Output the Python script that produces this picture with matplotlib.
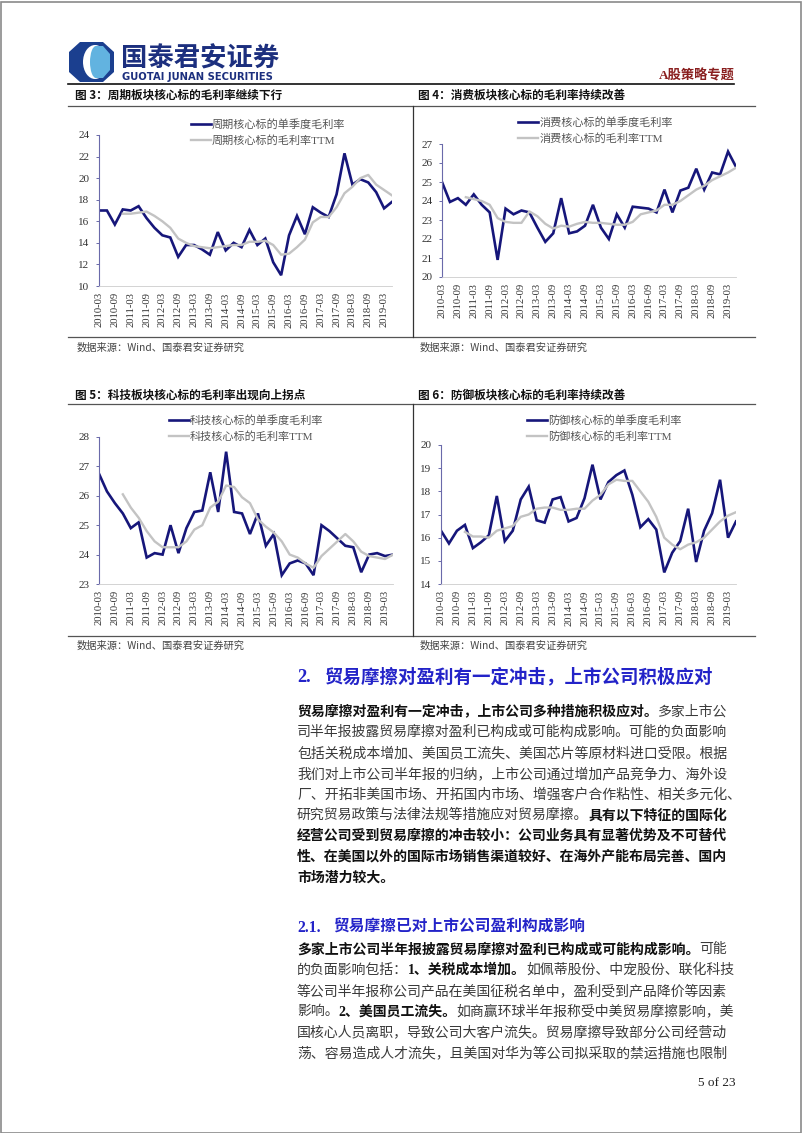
import matplotlib
matplotlib.use("Agg")
import matplotlib.pyplot as plt
from matplotlib.lines import Line2D
from matplotlib.patches import Polygon, Ellipse, Rectangle

W, H = 802, 1133
CJK = ['Liberation Serif', 'Noto Sans CJK SC']
SANS = ['Noto Sans CJK SC', 'DejaVu Sans']
NAVY = '#16167a'
GREY = '#c3c3c3'

# quarters 2010-03 .. 2019-06
years = list(range(2010, 2020))
months = ['03', '06', '09', '12']
quarters = [f'{y}-{m}' for y in years for m in months][:38]

# 周期
cyc_q = [17.0, 17.0, 15.7, 17.1, 17.0, 17.4, 16.3, 15.4, 14.7, 14.5,
         12.7, 13.8, 13.8, 13.4, 12.9, 15.0, 13.3, 14.0, 13.6, 15.2,
         13.8, 14.4, 12.2, 11.0, 14.7, 16.5, 14.8, 17.3, 16.8, 16.4,
         18.5, 22.3, 19.4, 19.9, 19.6, 18.7, 17.2, 17.8]
cyc_ttm = [16.7, 16.7, 16.8, 16.9, 16.5, 16.0, 15.4, 14.4, 14.0, 13.7,
           13.6, 13.5, 13.6, 13.7, 13.8, 13.8, 14.1, 14.1, 14.2, 13.8,
           12.9, 13.0, 13.6, 14.3, 15.9, 16.4, 16.4, 17.3, 18.6, 19.2,
           20.0, 20.3, 19.4, 18.9, 18.4]
# 消费
con_q = [25.0, 23.95, 24.15, 23.8, 24.35, 23.8, 23.4, 20.9, 23.6, 23.3,
         23.5, 23.4, 22.6, 21.85, 22.3, 24.15, 22.3, 22.4, 22.7, 23.8,
         22.6, 22.0, 23.3, 22.6, 23.7, 23.65, 23.6, 23.4, 24.6, 23.4,
         24.55, 24.7, 25.7, 24.6, 25.5, 25.4, 26.6, 25.8]
con_ttm = [24.2, 24.1, 24.0, 23.8, 23.1, 22.9, 22.85, 22.85, 23.45, 23.2,
           22.8, 22.55, 22.7, 22.65, 22.8, 22.9, 22.85, 22.85, 22.8, 22.75,
           22.75, 22.9, 23.3, 23.4, 23.5, 23.8, 23.8, 24.0, 24.3, 24.6,
           24.8, 25.1, 25.3, 25.5, 25.75]
# 科技
tech_q = [26.75, 26.15, 25.75, 25.4, 24.9, 25.1, 23.9, 24.05, 24.0, 25.0,
          24.05, 24.9, 25.45, 25.5, 26.8, 25.45, 27.5, 25.45, 25.4, 24.7,
          25.4, 24.3, 24.7, 23.3, 23.7, 23.8, 23.7, 23.3, 25.0, 24.8,
          24.55, 24.3, 24.25, 23.4, 24.0, 24.05, 23.95, 24.0]
tech_ttm = [26.05, 25.6, 25.25, 24.8, 24.45, 24.25, 24.25, 24.25, 24.45, 24.85,
            25.0, 25.6, 25.8, 26.35, 26.3, 25.95, 25.75, 25.2, 24.95, 24.75,
            24.45, 24.0, 23.9, 23.7, 23.55, 23.95, 24.2, 24.45, 24.7, 24.45,
            24.1, 23.95, 23.9, 23.85, 24.0]
# 防御
def_q = [16.3, 15.75, 16.3, 16.55, 15.55, 15.8, 16.1, 17.8, 15.85, 16.3,
         17.65, 18.2, 16.75, 16.65, 17.65, 17.75, 16.7, 16.85, 17.7, 19.15,
         17.65, 18.4, 18.7, 18.9, 17.85, 16.45, 16.8, 16.35, 14.5, 15.35,
         15.85, 17.25, 14.95, 16.3, 17.05, 18.5, 16.0, 16.7]
def_ttm = [16.25, 16.05, 16.05, 16.0, 16.3, 16.4, 16.5, 16.9, 17.0, 17.25,
           17.3, 17.3, 17.2, 17.2, 17.25, 17.25, 17.6, 17.85, 18.3, 18.5,
           18.45, 18.45, 18.0, 17.55, 16.9, 16.0, 15.7, 15.5, 15.7, 15.8,
           16.0, 16.35, 16.7, 16.95, 17.1]

fig = plt.figure(figsize=(W / 100, H / 100), dpi=100)
fig.patch.set_facecolor('white')
R = fig.canvas.get_renderer()


def fx(x):
    return x / W


def fy(y):
    return 1 - y / H


def hline(y, x0, x1, c='#222222', lw=0.8):
    fig.add_artist(Line2D([fx(x0), fx(x1)], [fy(y), fy(y)], color=c, lw=lw))


def vline(x, y0, y1, c='#222222', lw=0.8):
    fig.add_artist(Line2D([fx(x), fx(x)], [fy(y0), fy(y1)], color=c, lw=lw))


def chart(box, q, ttm, ylim, step, lab1, lab2, leg_xy):
    x0, y0, x1, y1 = box
    ax = fig.add_axes([fx(x0), fy(y1), (x1 - x0) / W, (y1 - y0) / H])
    xs = list(range(len(quarters)))
    l1, = ax.plot(xs, q, color=NAVY, lw=1.9, solid_joinstyle='miter')
    l2, = ax.plot(xs[3:], ttm, color=GREY, lw=1.7)
    ax.set_xlim(0, len(quarters) - 1)
    ax.set_ylim(*ylim)
    ax.set_yticks([v for v in range(ylim[0], ylim[1] + 1, step)])
    ax.set_xticks(xs[::2])
    ax.set_xticklabels(quarters[::2], rotation=90, family='Liberation Serif',
                       fontsize=7.7, color='#333333')
    for t in ax.get_yticklabels():
        t.set_family('Liberation Serif')
        t.set_fontsize(8)
        t.set_color('#333333')
    ax.tick_params(axis='x', length=0, pad=4.5)
    ax.tick_params(axis='y', length=2.5, width=0.7, color='#6a6aaa', pad=4.5)
    for s in ['top', 'right']:
        ax.spines[s].set_visible(False)
    ax.spines['left'].set_color('#6a6aaa')
    ax.spines['left'].set_linewidth(0.8)
    ax.spines['bottom'].set_color('#cccccc')
    ax.spines['bottom'].set_linewidth(0.6)
    ax.patch.set_alpha(0)
    leg = ax.legend([l1, l2], [lab1, lab2], loc='upper left',
                    bbox_to_anchor=(fx(leg_xy[0]), fy(leg_xy[1])),
                    bbox_transform=fig.transFigure, frameon=False,
                    prop={'family': CJK, 'size': 8}, handlelength=1.8,
                    handletextpad=0.1, borderpad=0, borderaxespad=0,
                    labelspacing=0.45)
    for t in leg.get_texts():
        t.set_color('#555555')
    return ax


chart((99, 135, 392, 286), cyc_q, cyc_ttm, (10, 24), 2,
      '周期核心标的单季度毛利率', '周期核心标的毛利率TTM', (191, 119))
chart((442, 144, 736, 277), con_q, con_ttm, (20, 27), 1,
      '消费核心标的单季度毛利率', '消费核心标的毛利率TTM', (518, 117))
chart((99, 437, 393, 584), tech_q, tech_ttm, (23, 28), 1,
      '科技核心标的单季度毛利率', '科技核心标的毛利率TTM', (169, 415))
chart((441, 445, 736, 584), def_q, def_ttm, (14, 20), 1,
      '防御核心标的单季度毛利率', '防御核心标的毛利率TTM', (527, 415))

# page frame
fig.add_artist(Rectangle((0.5 / W, 0.5 / H), (W - 2) / W, (H - 2) / H,
                         transform=fig.transFigure, fill=False,
                         edgecolor='#8a8a8a', lw=1.2))

# header logo
oct_pts = [(80, 42), (103, 42), (114, 52), (114, 72), (103, 82), (80, 82), (69, 72), (69, 52)]
fig.add_artist(Polygon([(fx(a), fy(b)) for a, b in oct_pts], closed=True,
                       transform=fig.transFigure, color='#1b3f8f', lw=0))
fig.add_artist(Ellipse((fx(95), fy(62)), 24 / W, 34 / H, transform=fig.transFigure,
                       color='white', lw=0))
fig.add_artist(Polygon([(fx(a), fy(b)) for a, b in
                        [(96, 46), (103, 46), (110, 54), (110, 70), (103, 78), (96, 78)]],
                       closed=True, transform=fig.transFigure, color='#62b3e0', lw=0))
fig.add_artist(Ellipse((fx(96), fy(62)), 12 / W, 32 / H, transform=fig.transFigure,
                       color='#62b3e0', lw=0))
fig.text(fx(121), fy(59), '国泰君安证券', family=SANS, fontweight='bold',
         fontsize=19, color='#1c2f7e', va='center', ha='left')
fig.text(fx(122), fy(77), 'GUOTAI JUNAN SECURITIES', family='DejaVu Sans',
         fontweight='bold', fontsize=7.2, color='#1c2f7e', va='center', ha='left')
fig.text(fx(735), fy(76), 'A股策略专题', family=CJK, fontweight='bold',
         fontsize=9.5, color='#8a1f1f', va='center', ha='right')
hline(84, 68, 734, c='#111111', lw=1.2)

# figure titles and frames
for row_title, row_line, row_bot, row_src, titles in [
        (95, 105.5, 337, 348, ('图 3：周期板块核心标的毛利率继续下行', '图 4：消费板块核心标的毛利率持续改善')),
        (395, 404.5, 636, 646, ('图 5：科技板块核心标的毛利率出现向上拐点', '图 6：防御板块核心标的毛利率持续改善'))]:
    fig.text(fx(75), fy(row_title), titles[0], family=SANS, fontweight='bold',
             fontsize=8.4, color='#111111', va='center')
    fig.text(fx(418), fy(row_title), titles[1], family=SANS, fontweight='bold',
             fontsize=8.4, color='#111111', va='center')
    hline(row_line, 68, 755, c='#555555', lw=0.9)
    hline(row_bot, 68, 755, c='#555555', lw=0.9)
    vline(412.5, row_line, row_bot, c='#333333', lw=0.9)
    fig.text(fx(77), fy(row_src), '数据来源：Wind、国泰君安证券研究', family=SANS,
             fontsize=7.4, color='#444444', va='center')
    fig.text(fx(420), fy(row_src), '数据来源：Wind、国泰君安证券研究', family=SANS,
             fontsize=7.4, color='#444444', va='center')


def put_line(x, y, segs, size=10):
    for txt, bold in segs:
        t = fig.text(fx(x), fy(y), txt, family=CJK, fontsize=size,
                     fontweight='bold' if bold else 'normal',
                     color='#111111' if bold else '#3a3a3a', va='center', ha='left')
        x += t.get_window_extent(renderer=R).width


BLUE = '#2323c8'
fig.text(fx(297), fy(677), '2.', family=CJK, fontweight='bold', fontsize=13.3,
         color=BLUE, va='center')
fig.text(fx(325), fy(677), '贸易摩擦对盈利有一定冲击，上市公司积极应对', family=CJK,
         fontweight='bold', fontsize=13.3, color=BLUE, va='center')

para1 = [
    [('贸易摩擦对盈利有一定冲击，上市公司多种措施积极应对。', True), ('多家上市公', False)],
    [('司半年报披露贸易摩擦对盈利已构成或可能构成影响。可能的负面影响', False)],
    [('包括关税成本增加、美国员工流失、美国芯片等原材料进口受限。根据', False)],
    [('我们对上市公司半年报的归纳，上市公司通过增加产品竞争力、海外设', False)],
    [('厂、开拓非美国市场、开拓国内市场、增强客户合作粘性、相关多元化、', False)],
    [('研究贸易政策与法律法规等措施应对贸易摩擦。', False), ('具有以下特征的国际化', True)],
    [('经营公司受到贸易摩擦的冲击较小：公司业务具有显著优势及不可替代', True)],
    [('性、在美国以外的国际市场销售渠道较好、在海外产能布局完善、国内', True)],
    [('市场潜力较大。', True)],
]
for i, segs in enumerate(para1):
    put_line(297, 711.5 + 20.8 * i, segs)

fig.text(fx(297), fy(928), '2.1.', family=CJK, fontweight='bold', fontsize=11.3,
         color=BLUE, va='center')
fig.text(fx(333), fy(928), '贸易摩擦已对上市公司盈利构成影响', family=CJK,
         fontweight='bold', fontsize=11.3, color=BLUE, va='center')

para2 = [
    [('多家上市公司半年报披露贸易摩擦对盈利已构成或可能构成影响。', True), ('可能', False)],
    [('的负面影响包括：', False), ('1、关税成本增加。', True), ('如佩蒂股份、中宠股份、联化科技', False)],
    [('等公司半年报称公司产品在美国征税名单中，盈利受到产品降价等因素', False)],
    [('影响。', False), ('2、美国员工流失。', True), ('如商赢环球半年报称受中美贸易摩擦影响，美', False)],
    [('国核心人员离职，导致公司大客户流失。贸易摩擦导致部分公司经营动', False)],
    [('荡、容易造成人才流失，且美国对华为等公司拟采取的禁运措施也限制', False)],
]
for i, segs in enumerate(para2):
    put_line(297, 949.5 + 20.7 * i, segs)

fig.text(fx(735), fy(1083), '5 of 23', family='Liberation Serif', fontsize=9.5,
         color='#222222', va='center', ha='right')

fig.savefig('out.png', dpi=100, facecolor='white')
